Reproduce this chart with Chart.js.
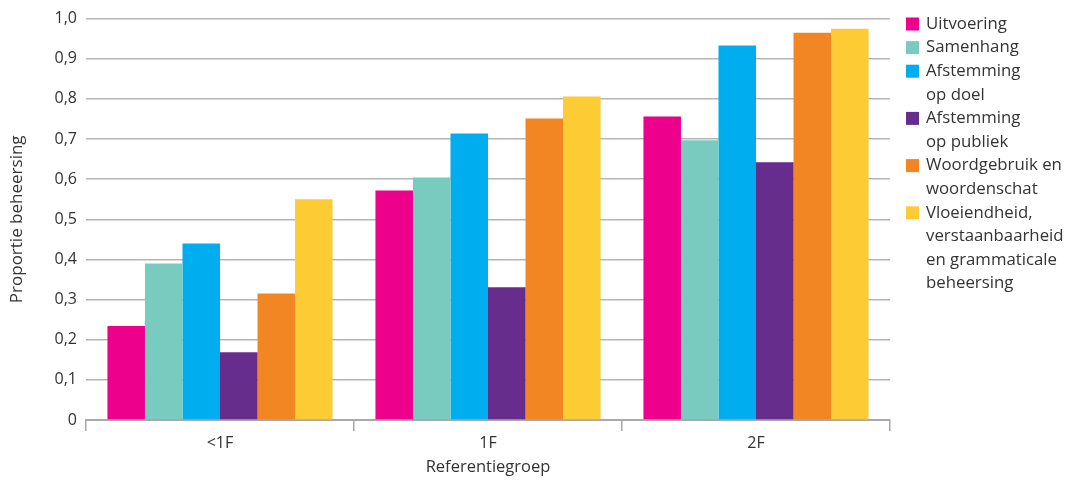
<!DOCTYPE html>
<html>
<head>
<meta charset="utf-8">
<script src="https://cdn.jsdelivr.net/npm/chart.js@4.4.1/dist/chart.umd.min.js"></script>
<style>
  html, body { margin: 0; padding: 0; background: #fff; }
  #wrap { width: 1068px; height: 481px; position: relative; }
</style>
</head>
<body>
<div id="wrap"><canvas id="c" width="1068" height="481"></canvas></div>
<script>
const categories = ['<1F', '1F', '2F'];
const seriesLabels = [
  ['Uitvoering'],
  ['Samenhang'],
  ['Afstemming', 'op doel'],
  ['Afstemming', 'op publiek'],
  ['Woordgebruik en', 'woordenschat'],
  ['Vloeiendheid,', 'verstaanbaarheid', 'en grammaticale', 'beheersing']
];
const seriesColors = ['#EC008C', '#7ACBBF', '#00ADEE', '#662D8C', '#F28622', '#FDCB33'];
const uitvoering   = [0.234, 0.572, 0.756];
const samenhang    = [0.390, 0.604, 0.697];
const afstDoel     = [0.440, 0.714, 0.933];
const afstPubliek  = [0.169, 0.331, 0.642];
const woordgebruik = [0.315, 0.751, 0.965];
const vloeiendheid = [0.550, 0.806, 0.975];
const seriesValues = [uitvoering, samenhang, afstDoel, afstPubliek, woordgebruik, vloeiendheid];
const yTickLabels = ['0', '0,1', '0,2', '0,3', '0,4', '0,5', '0,6', '0,7', '0,8', '0,9', '1,0'];
const yTitle = 'Proportie beheersing';
const xTitle = 'Referentiegroep';

const FONT = "'Open Sans', 'Noto Sans', sans-serif";
const TEXT = '#333333';

const legendPlugin = {
  id: 'sideLegend',
  afterDraw(chart) {
    const ctx = chart.ctx;
    ctx.save();
    ctx.font = '16.8px ' + FONT;
    ctx.textBaseline = 'middle';
    ctx.textAlign = 'left';
    const lh = 23.6;
    let y = 24;
    chart.data.datasets.forEach(ds => {
      const lines = ds.legendLines;
      ctx.fillStyle = ds.backgroundColor;
      ctx.fillRect(906, y - 6.5, 13, 13);
      ctx.fillStyle = TEXT;
      lines.forEach(line => {
        ctx.fillText(line, 926, y);
        y += lh;
      });
    });
    ctx.restore();
  }
};

new Chart(document.getElementById('c'), {
  type: 'bar',
  data: {
    labels: categories,
    datasets: seriesLabels.map((l, i) => ({
      label: l.join(' '),
      legendLines: l,
      data: seriesValues[i],
      backgroundColor: seriesColors[i],
      borderWidth: 0,
      barPercentage: 1.0,
      categoryPercentage: 0.84
    }))
  },
  options: {
    responsive: false,
    animation: false,
    events: [],
    layout: { padding: { top: 18, right: 178, left: 0, bottom: 0 } },
    plugins: { legend: { display: false }, tooltip: { enabled: false } },
    scales: {
      x: {
        afterFit: s => { s.height = 61; },
        grid: { drawOnChartArea: false, drawTicks: true, tickLength: 11, offset: true, color: '#a8a8a8', lineWidth: 1.5 },
        border: { display: true, color: '#a8a8a8', width: 2 },
        ticks: { color: TEXT, font: { family: FONT, size: 16 }, padding: 3 },
        title: { display: true, text: xTitle, color: TEXT, font: { family: FONT, size: 16.5 }, padding: { top: 0, bottom: 4 } }
      },
      y: {
        min: 0, max: 1,
        afterFit: s => { s.width = 86; },
        afterBuildTicks: s => { s.ticks = yTickLabels.map((t, i) => ({ value: i / 10 })); },
        grid: { drawTicks: false, color: '#b5b5b5', lineWidth: 1.5 },
        border: { display: false },
        ticks: {
          color: TEXT, font: { family: FONT, size: 16 }, padding: 9,
          callback: (v, i) => yTickLabels[i]
        },
        title: { display: true, text: yTitle, color: TEXT, font: { family: FONT, size: 17 }, padding: { top: 7, bottom: 0 } }
      }
    }
  },
  plugins: [legendPlugin]
});
</script>
</body>
</html>
